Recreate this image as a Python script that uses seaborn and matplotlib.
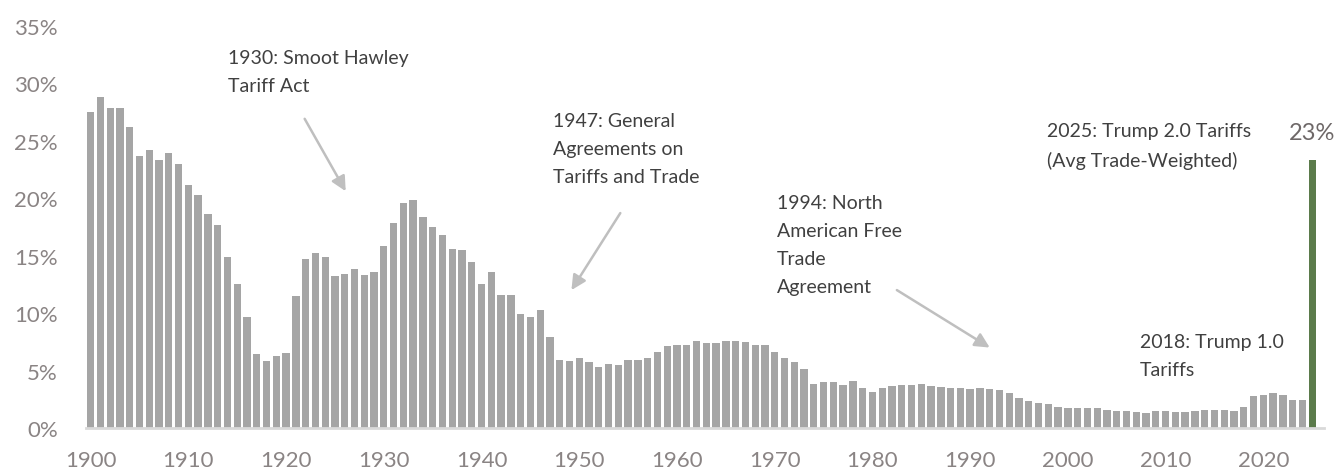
# US average tariff rate, 1900-2025
import pandas as pd
import seaborn as sns
import matplotlib.pyplot as plt

# ===============================
# Data
# ===============================
years = list(range(1900, 2026))
tariff_rate = [
    27.5, 28.8, 27.8, 27.8, 26.2, 23.7, 24.2, 23.3, 23.9, 23.0,   # 1900s
    21.1, 20.3, 18.6, 17.7, 14.9, 12.5, 9.7, 6.4, 5.8, 6.3,       # 1910s
    6.5, 11.5, 14.7, 15.2, 14.9, 13.2, 13.4, 13.8, 13.3, 13.6,    # 1920s
    15.8, 17.8, 19.6, 19.8, 18.4, 17.5, 16.8, 15.6, 15.5, 14.4,   # 1930s
    12.5, 13.6, 11.6, 11.6, 9.9, 9.7, 10.3, 7.9, 5.9, 5.8,        # 1940s
    6.1, 5.7, 5.3, 5.6, 5.5, 5.9, 5.9, 6.1, 6.6, 7.1,             # 1950s
    7.2, 7.2, 7.6, 7.4, 7.4, 7.6, 7.6, 7.5, 7.2, 7.2,             # 1960s
    6.6, 6.1, 5.7, 5.1, 3.85, 4.0, 4.0, 3.75, 4.05, 3.5,          # 1970s
    3.15, 3.45, 3.65, 3.75, 3.75, 3.85, 3.65, 3.56, 3.47, 3.47,   # 1980s
    3.36, 3.47, 3.36, 3.28, 3.07, 2.59, 2.38, 2.18, 2.07, 1.87,   # 1990s
    1.7, 1.7, 1.78, 1.7, 1.58, 1.5, 1.5, 1.38, 1.29, 1.5,         # 2000s
    1.5, 1.38, 1.38, 1.5, 1.58, 1.58, 1.58, 1.5, 1.87, 2.76,      # 2010s
    2.87, 3.07, 2.87, 2.47, 2.47,                                 # 2020-2024
    23.3,                                                         # 2025
]
period = ["history"] * 125 + ["2025"]

x_ticks = list(range(1900, 2021, 10))
y_ticks = list(range(0, 36, 5))

df = pd.DataFrame({"Year": years, "Rate": tariff_rate, "Period": period})

# ===============================
# Style
# ===============================
sns.set_style("white")
plt.rcParams["font.family"] = ["Lato", "DejaVu Sans"]

GREY = "#A5A5A5"
GREEN = "#5B7B4B"
TICK_COLOR = "#8A8484"
TEXT_COLOR = "#404040"
ARROW_COLOR = "#BFBFBF"

fig = plt.figure(figsize=(13.4, 4.77), dpi=100)
ax = fig.add_axes([0.064, 0.1006, 0.924, 0.8434])

sns.barplot(data=df, x="Year", y="Rate", hue="Period",
            palette={"history": GREY, "2025": GREEN},
            native_scale=True, dodge=False, width=0.75,
            legend=False, saturation=1, linewidth=0, ax=ax)

# ===============================
# Axes
# ===============================
ax.set_xlim(1899.5, 2026.2)
ax.set_ylim(0, 35)
ax.set_xticks(x_ticks)
ax.set_xticklabels([str(y) for y in x_ticks])
ax.set_yticks(y_ticks)
ax.set_yticklabels([f"{v}%" for v in y_ticks])
ax.tick_params(axis="both", length=0, labelsize=16, colors=TICK_COLOR)
ax.tick_params(axis="y", pad=20)
ax.tick_params(axis="x", pad=16)
ax.set_xlabel("")
ax.set_ylabel("")

sns.despine(ax=ax, left=True)
ax.spines["bottom"].set_color("#D9D9D9")
ax.spines["bottom"].set_linewidth(2)

# ===============================
# Annotations
# ===============================
txt = dict(fontsize=14, color=TEXT_COLOR, ha="left", va="top", linespacing=1.8)
arrow = dict(arrowstyle="-|>", color=ARROW_COLOR, lw=1.8, mutation_scale=22,
             shrinkA=0, shrinkB=0)

ax.text(1914.1, 33.0, "1930: Smoot Hawley\nTariff Act", **txt)
ax.annotate("", xy=(1926.1, 20.6), xytext=(1921.9, 26.9), arrowprops=arrow)

ax.text(1947.3, 27.5, "1947: General\nAgreements on\nTariffs and Trade", **txt)
ax.annotate("", xy=(1949.2, 12.0), xytext=(1954.2, 18.7), arrowprops=arrow)

ax.text(1970.2, 20.4, "1994: North\nAmerican Free\nTrade\nAgreement", **txt)
ax.annotate("", xy=(1992.0, 7.0), xytext=(1982.5, 12.0), arrowprops=arrow)

ax.text(2007.4, 8.3, "2018: Trump 1.0\nTariffs", **txt)

ax.text(1997.9, 26.6, "2025: Trump 2.0 Tariffs\n(Avg Trade-Weighted)", **txt)

ax.text(2025, tariff_rate[-1] + 1.5, f"{round(tariff_rate[-1])}%",
        ha="center", va="bottom", fontsize=17, color="#6E6868")

plt.savefig("out.png", dpi=100)
